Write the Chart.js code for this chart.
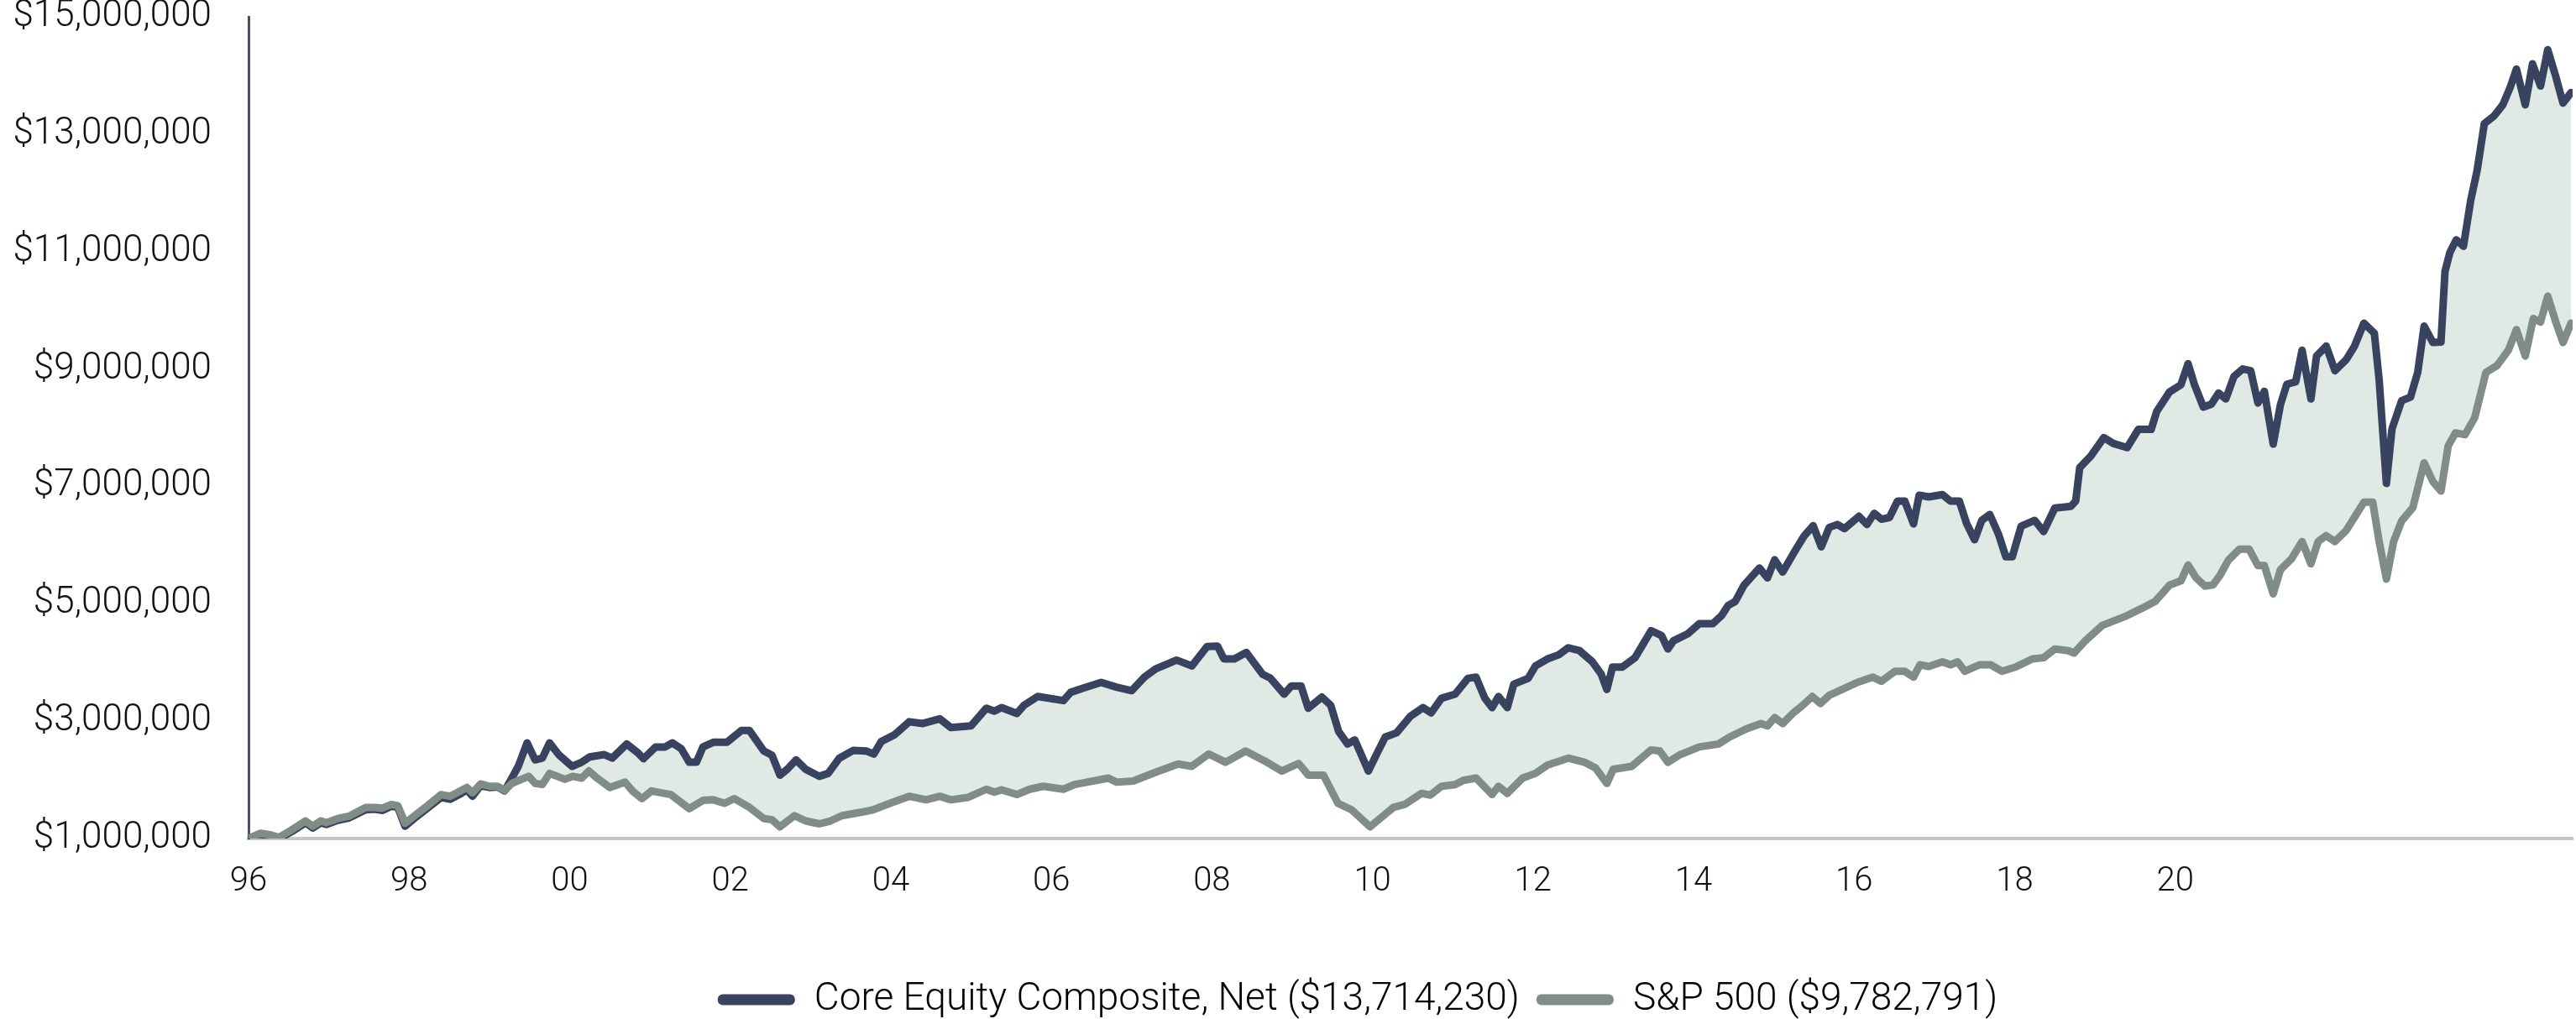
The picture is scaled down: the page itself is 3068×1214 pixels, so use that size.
<!DOCTYPE html>
<html lang="en">
<head>
    <meta charset="UTF-8">
    <title>Core Equity Composite vs S&amp;P 500</title>
    <script src="https://cdn.jsdelivr.net/npm/chart.js"></script>
    <style>
        html, body { margin: 0; padding: 0; background: #fff; }
        #chartBox { width: 3068px; height: 1214px; position: relative; }
    </style>
</head>
<body>
    <div id="chartBox">
        <canvas id="growthChart"></canvas>
    </div>
    <script>
        // x = period index (labels every 20 periods), y = value in $ millions
        const xTickLabels = ['96', '98', '00', '02', '04', '06', '08', '10', '12', '14', '16', '18', '20'];

        const seriesNames = ['Core Equity Composite, Net ($13,714,230)', 'S&P 500 ($9,782,791)'];

        const corePoints = [
            [0, 1.00], [1.5, 1.07], [2.8, 1.04], [3.8, 1.00], [5.4, 1.12], [7.1, 1.27], [8.0, 1.18], [9.0, 1.27],
            [9.7, 1.24], [11.1, 1.31], [12.5, 1.35], [14.6, 1.49], [15.7, 1.50], [16.7, 1.48], [17.8, 1.55], [18.6, 1.53],
            [19.5, 1.21], [20.9, 1.37], [22.3, 1.52], [24.0, 1.70], [25.1, 1.67], [26.5, 1.77], [27.2, 1.83], [27.9, 1.72],
            [28.9, 1.90], [30.0, 1.87], [31.0, 1.88], [31.9, 1.81], [32.8, 2.03], [33.6, 2.23], [34.7, 2.63], [35.7, 2.34],
            [36.6, 2.37], [37.5, 2.63], [38.7, 2.42], [40.3, 2.23], [41.5, 2.30], [42.5, 2.39], [44.3, 2.43], [45.3, 2.37],
            [47.1, 2.61], [48.5, 2.46], [49.2, 2.36], [50.7, 2.56], [51.9, 2.56], [52.8, 2.63], [53.9, 2.53], [54.9, 2.30],
            [55.8, 2.30], [56.6, 2.56], [57.9, 2.64], [59.6, 2.64], [61.4, 2.84], [62.4, 2.84], [64.2, 2.49], [65.2, 2.42],
            [66.2, 2.08], [67.1, 2.18], [68.2, 2.34], [69.4, 2.18], [71.1, 2.06], [72.2, 2.11], [73.6, 2.37], [75.3, 2.50],
            [77.0, 2.49], [77.9, 2.44], [78.8, 2.65], [80.5, 2.77], [82.3, 2.99], [84.0, 2.96], [86.1, 3.04], [87.5, 2.89],
            [90.0, 2.92], [91.9, 3.22], [92.9, 3.17], [93.8, 3.23], [95.7, 3.13], [96.6, 3.27], [98.3, 3.42], [101.5, 3.35],
            [102.4, 3.49], [103.9, 3.56], [106.2, 3.66], [108.1, 3.58], [110.0, 3.52], [111.6, 3.75], [113.0, 3.89], [115.6, 4.04],
            [117.5, 3.94], [119.4, 4.27], [120.7, 4.28], [121.5, 4.06], [122.8, 4.06], [124.3, 4.17], [126.3, 3.80], [127.3, 3.73],
            [129.0, 3.46], [129.9, 3.60], [131.1, 3.60], [132.0, 3.22], [133.7, 3.41], [134.8, 3.27], [135.8, 2.82], [136.9, 2.61],
            [137.8, 2.68], [139.5, 2.15], [140.6, 2.46], [141.6, 2.73], [143.0, 2.80], [144.7, 3.08], [146.3, 3.23], [147.3, 3.14],
            [148.6, 3.39], [150.3, 3.46], [151.9, 3.73], [152.9, 3.75], [154.0, 3.39], [154.9, 3.23], [155.7, 3.42], [156.8, 3.23],
            [157.6, 3.63], [159.4, 3.73], [160.3, 3.94], [161.8, 4.06], [163.2, 4.13], [164.4, 4.25], [165.8, 4.20], [167.4, 4.01],
            [168.5, 3.80], [169.2, 3.54], [169.9, 3.92], [171.1, 3.92], [172.7, 4.08], [174.7, 4.54], [176.0, 4.46], [176.8, 4.23],
            [177.5, 4.37], [179.3, 4.49], [180.7, 4.66], [182.4, 4.66], [183.5, 4.80], [184.3, 4.97], [185.2, 5.04], [186.3, 5.32],
            [188.2, 5.61], [189.2, 5.44], [190.1, 5.75], [191.1, 5.54], [192.5, 5.87], [193.8, 6.16], [194.9, 6.33], [195.9, 5.97],
            [196.9, 6.30], [197.9, 6.35], [198.8, 6.28], [200.6, 6.49], [201.6, 6.35], [202.5, 6.54], [203.4, 6.44], [204.4, 6.47],
            [205.4, 6.75], [206.3, 6.75], [207.4, 6.36], [208.1, 6.85], [209.3, 6.82], [211.0, 6.86], [212.0, 6.75], [213.1, 6.75],
            [214.0, 6.37], [215.0, 6.09], [215.9, 6.42], [216.9, 6.52], [218.0, 6.18], [218.9, 5.80], [219.7, 5.80], [220.8, 6.32],
            [222.5, 6.42], [223.6, 6.23], [225.0, 6.63], [227.0, 6.66], [227.6, 6.75], [228.1, 7.32], [229.5, 7.52], [231.1, 7.83],
            [232.3, 7.73], [234.0, 7.66], [235.4, 7.97], [237.0, 7.97], [237.7, 8.28], [239.3, 8.61], [240.7, 8.73], [241.6, 9.09],
            [242.4, 8.73], [243.5, 8.35], [244.5, 8.40], [245.4, 8.59], [246.3, 8.49], [247.3, 8.87], [248.4, 9.00], [249.4, 8.97],
            [250.3, 8.42], [251.1, 8.62], [252.2, 7.72], [253.1, 8.39], [253.9, 8.74], [255.0, 8.78], [255.8, 9.32], [256.9, 8.49],
            [257.6, 9.22], [258.8, 9.39], [259.9, 8.97], [261.3, 9.16], [262.3, 9.38], [263.5, 9.78], [264.8, 9.61], [265.4, 8.81],
            [266.3, 7.05], [267.0, 7.98], [268.2, 8.46], [269.3, 8.52], [270.2, 8.94], [271.0, 9.73], [272.1, 9.45], [273.1, 9.46],
            [273.6, 10.66], [274.2, 10.98], [275.0, 11.20], [275.9, 11.09], [276.8, 11.87], [277.6, 12.38], [278.5, 13.18], [279.7, 13.31],
            [280.8, 13.50], [281.7, 13.79], [282.5, 14.11], [283.6, 13.50], [284.5, 14.20], [285.5, 13.82], [286.4, 14.44], [287.4, 13.98],
            [288.3, 13.53], [289.3, 13.71]
        ];

        const spPoints = [
            [0, 1.00], [1.5, 1.09], [2.8, 1.06], [3.8, 1.02], [5.4, 1.15], [7.1, 1.30], [8.0, 1.21], [9.0, 1.30],
            [9.7, 1.27], [11.1, 1.34], [12.5, 1.38], [14.6, 1.53], [15.7, 1.53], [16.7, 1.52], [17.8, 1.58], [18.6, 1.56],
            [19.5, 1.26], [20.9, 1.41], [22.3, 1.56], [24.0, 1.75], [25.1, 1.72], [26.5, 1.82], [27.2, 1.87], [27.9, 1.78],
            [28.9, 1.93], [30.0, 1.89], [31.0, 1.89], [31.9, 1.82], [32.8, 1.94], [34.9, 2.06], [35.7, 1.94], [36.6, 1.92],
            [37.5, 2.11], [39.4, 2.01], [40.4, 2.06], [41.5, 2.03], [42.4, 2.15], [43.4, 2.03], [45.0, 1.87], [46.9, 1.96],
            [47.9, 1.80], [49.0, 1.68], [50.2, 1.81], [52.6, 1.75], [54.9, 1.51], [56.6, 1.65], [57.9, 1.66], [59.3, 1.60],
            [60.5, 1.68], [62.4, 1.53], [64.2, 1.34], [65.2, 1.32], [66.2, 1.20], [68.0, 1.39], [69.4, 1.30], [71.1, 1.25],
            [72.5, 1.30], [73.9, 1.39], [76.4, 1.45], [77.8, 1.49], [79.9, 1.60], [82.3, 1.72], [84.4, 1.66], [86.1, 1.72],
            [87.5, 1.66], [89.6, 1.70], [91.9, 1.84], [92.9, 1.79], [93.8, 1.83], [95.7, 1.75], [97.3, 1.84], [99.0, 1.89],
            [101.5, 1.84], [102.9, 1.92], [107.1, 2.03], [108.1, 1.96], [110.2, 1.98], [113.0, 2.13], [115.8, 2.27], [117.5, 2.23],
            [119.6, 2.44], [121.7, 2.30], [124.2, 2.49], [126.6, 2.32], [128.7, 2.15], [130.8, 2.28], [132.0, 2.08], [133.9, 2.08],
            [135.7, 1.60], [137.4, 1.49], [139.7, 1.20], [141.2, 1.37], [142.6, 1.53], [144.0, 1.58], [146.1, 1.77], [147.2, 1.74],
            [148.6, 1.89], [150.3, 1.92], [151.3, 1.99], [152.9, 2.03], [154.9, 1.75], [155.7, 1.89], [156.8, 1.77], [158.7, 2.03],
            [160.3, 2.11], [161.8, 2.25], [164.4, 2.37], [166.4, 2.30], [167.8, 2.20], [169.2, 1.94], [170.0, 2.18], [172.3, 2.23],
            [174.7, 2.51], [175.8, 2.49], [176.8, 2.30], [178.2, 2.42], [180.7, 2.56], [183.1, 2.61], [184.5, 2.73], [186.6, 2.87],
            [188.4, 2.96], [189.2, 2.92], [190.1, 3.06], [191.1, 2.96], [192.5, 3.15], [193.6, 3.27], [194.8, 3.42], [195.8, 3.30],
            [196.9, 3.44], [198.5, 3.54], [200.4, 3.66], [202.3, 3.75], [203.4, 3.68], [205.1, 3.85], [206.3, 3.85], [207.4, 3.75],
            [208.2, 3.96], [209.3, 3.93], [211.0, 4.01], [212.0, 3.96], [212.9, 4.01], [213.8, 3.85], [215.6, 3.96], [217.0, 3.96],
            [218.4, 3.85], [220.1, 3.92], [222.2, 4.06], [223.6, 4.08], [225.0, 4.23], [226.7, 4.20], [227.4, 4.16], [228.8, 4.37],
            [230.9, 4.63], [233.7, 4.78], [235.8, 4.92], [237.5, 5.04], [239.3, 5.32], [240.7, 5.39], [241.6, 5.66], [242.6, 5.44],
            [243.7, 5.30], [244.7, 5.32], [245.6, 5.49], [246.6, 5.74], [248.0, 5.93], [249.2, 5.93], [250.3, 5.65], [251.1, 5.65],
            [252.2, 5.17], [253.1, 5.58], [254.5, 5.77], [255.8, 6.06], [256.9, 5.68], [257.8, 6.06], [258.8, 6.16], [259.9, 6.06],
            [261.3, 6.25], [263.5, 6.73], [264.6, 6.73], [265.4, 6.06], [266.3, 5.42], [267.2, 6.06], [268.2, 6.41], [269.6, 6.64],
            [271.0, 7.40], [272.1, 7.08], [273.1, 6.92], [274.0, 7.69], [274.9, 7.91], [276.1, 7.88], [277.3, 8.17], [278.7, 8.94],
            [280.1, 9.06], [281.5, 9.32], [282.5, 9.67], [283.6, 9.22], [284.6, 9.86], [285.5, 9.80], [286.4, 10.24], [287.4, 9.80],
            [288.3, 9.45], [289.3, 9.78]
        ];

        const toXY = pts => pts.map(p => ({ x: p[0], y: p[1] }));

        // nudge the bottom legend right and down, as in the original
        const legendShift = {
            id: 'legendShift',
            afterLayout(chart) {
                if (chart.legend) {
                    chart.legend.left += 85;
                    chart.legend.right += 85;
                    chart.legend.top += 10;
                    chart.legend.bottom += 10;
                }
            }
        };

        Chart.defaults.font.family = 'Roboto, "Liberation Sans", sans-serif';
        Chart.defaults.font.weight = 300;
        Chart.defaults.color = '#111';

        const ctx = document.getElementById('growthChart').getContext('2d');
        const growthChart = new Chart(ctx, {
            type: 'line',
            data: {
                datasets: [
                    {
                        label: seriesNames[0],
                        data: toXY(corePoints),
                        borderColor: '#38435f',
                        backgroundColor: '#e1e9e5',
                        fill: { target: '+1', above: '#e1e9e5', below: '#e1e9e5' },
                        borderWidth: 9,
                        borderJoinStyle: 'round',
                        borderCapStyle: 'round',
                        pointRadius: 0,
                        tension: 0,
                        order: 1
                    },
                    {
                        label: seriesNames[1],
                        data: toXY(spPoints),
                        borderColor: '#7f8d86',
                        backgroundColor: '#e1e9e5',
                        fill: false,
                        borderWidth: 9,
                        borderJoinStyle: 'round',
                        borderCapStyle: 'round',
                        pointRadius: 0,
                        tension: 0,
                        order: 0
                    }
                ]
            },
            options: {
                responsive: true,
                maintainAspectRatio: false,
                animation: false,
                layout: { padding: { left: 0, right: 4, top: 0, bottom: 0 } },
                scales: {
                    x: {
                        type: 'linear',
                        min: 0,
                        max: 289.5,
                        grid: { display: false, drawTicks: false },
                        border: { display: true, color: '#c6c6c6', width: 4 },
                        ticks: {
                            stepSize: 20,
                            autoSkip: false,
                            maxRotation: 0,
                            padding: 28,
                            font: { size: 40 },
                            callback: v => (v % 20 === 0 && xTickLabels[v / 20]) ? xTickLabels[v / 20] : ''
                        },
                        afterFit: scale => {
                            scale.height = 139;
                            scale.paddingLeft = 0;
                            scale.paddingRight = 0;
                        }
                    },
                    y: {
                        min: 1,
                        max: 15,
                        grid: { display: false, drawTicks: false },
                        border: { display: true, color: '#474f69', width: 3 },
                        ticks: {
                            stepSize: 2,
                            padding: 44,
                            font: { size: 44, lineHeight: 1 },
                            callback: v => '$' + (v * 1000000).toLocaleString('en-US')
                        },
                        afterFit: scale => {
                            scale.width = 296;
                            scale.paddingTop = 20;
                            scale.paddingBottom = 0;
                        }
                    }
                },
                plugins: {
                    filler: { drawTime: 'beforeDatasetsDraw' },
                    tooltip: { enabled: false },
                    legend: {
                        position: 'bottom',
                        labels: {
                            boxWidth: 92,
                            boxHeight: 13,
                            padding: 20,
                            useBorderRadius: true,
                            font: { size: 46 },
                            generateLabels: chart => chart.data.datasets.map((ds, i) => ({
                                text: ds.label,
                                fillStyle: ds.borderColor,
                                strokeStyle: ds.borderColor,
                                lineWidth: 0,
                                borderRadius: 6,
                                hidden: false,
                                datasetIndex: i
                            }))
                        }
                    }
                }
            },
            plugins: [legendShift]
        });
    </script>
</body>
</html>
